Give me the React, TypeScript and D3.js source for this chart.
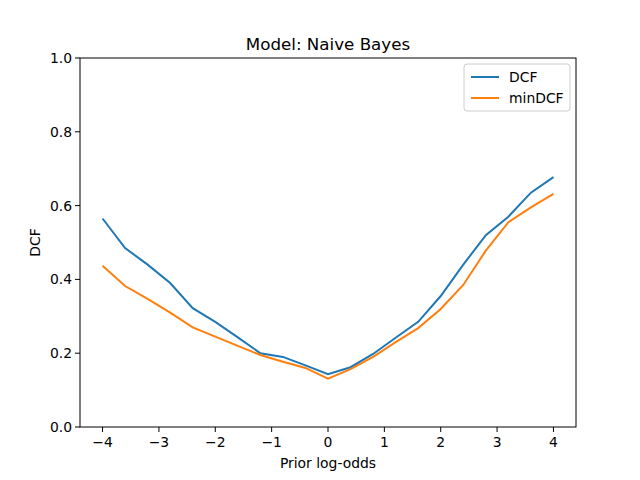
import * as d3 from "d3";

const logOdds = [-4, -3.6, -3.2, -2.8, -2.4, -2, -1.6, -1.2, -0.8, -0.4, 0, 0.4, 0.8, 1.2, 1.6, 2, 2.4, 2.8, 3.2, 3.6, 4];
const dcf = [0.565, 0.485, 0.44, 0.39, 0.322, 0.285, 0.243, 0.2, 0.19, 0.167, 0.143, 0.162, 0.198, 0.242, 0.285, 0.355, 0.44, 0.52, 0.57, 0.635, 0.677];
const minDcf = [0.437, 0.382, 0.347, 0.31, 0.27, 0.245, 0.22, 0.195, 0.177, 0.16, 0.131, 0.157, 0.19, 0.23, 0.268, 0.32, 0.385, 0.478, 0.555, 0.595, 0.632];
const xTicks = [-4, -3, -2, -1, 0, 1, 2, 3, 4];
const yTicks = [0, 0.2, 0.4, 0.6, 0.8, 1.0];
const series = [
  { name: "DCF", values: dcf, color: "#1f77b4" },
  { name: "minDCF", values: minDcf, color: "#ff7f0e" },
];

export default function App() {
  const W = 640, H = 480;
  const m = { left: 80, right: 64, top: 58, bottom: 53 };
  const x = d3.scaleLinear().domain([-4.4, 4.4]).range([m.left, W - m.right]);
  const y = d3.scaleLinear().domain([0, 1]).range([H - m.bottom, m.top]);
  const line = (vals: number[]) =>
    d3.line<number>().x((_, i) => x(logOdds[i])).y((d) => y(d))(vals) ?? "";
  const fmt = (t: number) => (t < 0 ? "\u2212" + Math.abs(t) : String(t));
  const font = "DejaVu Sans, sans-serif";
  const fs = 13.9;
  return (
    <svg width={W} height={H} style={{ position: "absolute", left: 0, top: 0, background: "#fff" }} fontFamily={font}>
      <text x={(m.left + W - m.right) / 2} y={m.top - 8} textAnchor="middle" fontSize={16.7}>Model: Naive Bayes</text>
      {series.map((s) => (
        <path key={s.name} d={line(s.values)} fill="none" stroke={s.color} strokeWidth={2} />
      ))}
      <rect x={m.left} y={m.top} width={W - m.left - m.right} height={H - m.top - m.bottom} fill="none" stroke="#000" strokeWidth={1} />
      {xTicks.map((t) => (
        <g key={t}>
          <line x1={x(t)} x2={x(t)} y1={H - m.bottom} y2={H - m.bottom + 5} stroke="#000" strokeWidth={1} />
          <text x={x(t)} y={H - m.bottom + 20} textAnchor="middle" fontSize={fs}>{fmt(t)}</text>
        </g>
      ))}
      {yTicks.map((t) => (
        <g key={t}>
          <line x1={m.left - 5} x2={m.left} y1={y(t)} y2={y(t)} stroke="#000" strokeWidth={1} />
          <text x={m.left - 8} y={y(t) + 5} textAnchor="end" fontSize={fs}>{t.toFixed(1)}</text>
        </g>
      ))}
      <text x={(m.left + W - m.right) / 2} y={H - 12} textAnchor="middle" fontSize={fs}>Prior log-odds</text>
      <text transform={`translate(40,${(m.top + H - m.bottom) / 2}) rotate(-90)`} textAnchor="middle" fontSize={fs}>DCF</text>
      <g transform={`translate(${W - m.right - 112},64)`}>
        <rect width={106} height={47} rx={3} fill="#fff" fillOpacity={0.8} stroke="#ccc" strokeWidth={1} />
        {series.map((s, i) => (
          <g key={s.name} transform={`translate(0,${13 + i * 21})`}>
            <line x1={7} x2={35} stroke={s.color} strokeWidth={2} />
            <text x={45} y={5} fontSize={fs}>{s.name}</text>
          </g>
        ))}
      </g>
    </svg>
  );
}
